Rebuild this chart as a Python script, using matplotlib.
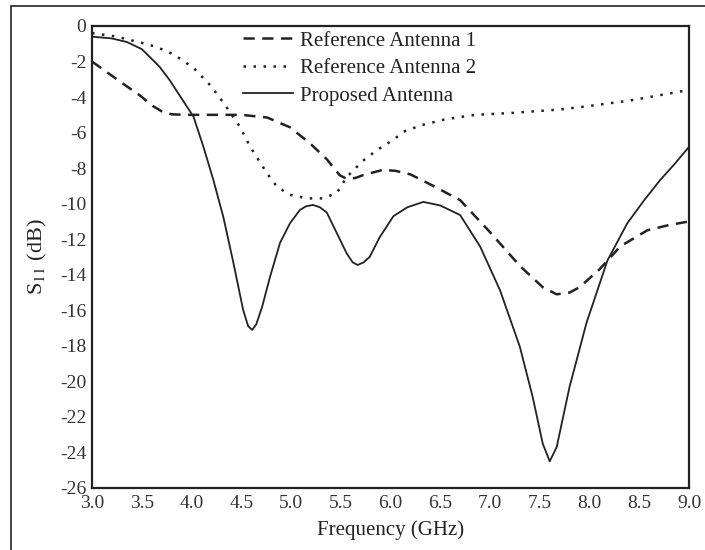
import matplotlib
matplotlib.use("Agg")
import matplotlib.pyplot as plt
from matplotlib.patches import Rectangle

plt.rcParams['font.family'] = ['Liberation Serif', 'DejaVu Serif']
plt.rcParams['mathtext.fontset'] = 'stix'

# Reference Antenna 1 (dashed)
freq_ref1 = [3.0, 3.15, 3.3, 3.48, 3.61, 3.7, 3.8, 3.95, 4.2, 4.5, 4.76, 4.99, 5.19,
             5.36, 5.49, 5.56, 5.65, 5.72, 5.92, 6.05, 6.2, 6.43, 6.7, 7.0, 7.3,
             7.53, 7.67, 7.8, 7.9, 8.1, 8.31, 8.58, 8.8, 9.0]
s11_ref1 = [-2.0, -2.6, -3.2, -3.9, -4.5, -4.8, -4.97, -5.0, -5.0, -5.0, -5.15, -5.7, -6.6,
            -7.5, -8.4, -8.6, -8.55, -8.4, -8.1, -8.15, -8.35, -9.0, -9.8, -11.6, -13.5,
            -14.7, -15.1, -15.0, -14.7, -13.7, -12.4, -11.5, -11.2, -11.0]

# Reference Antenna 2 (dotted)
freq_ref2 = [3.0, 3.25, 3.5, 3.65, 3.83, 4.02, 4.2, 4.35, 4.49, 4.59, 4.76,
             4.86, 4.99, 5.16, 5.32, 5.46, 5.56, 5.72, 5.86, 6.03, 6.13, 6.3, 6.55,
             6.85, 7.2, 7.7, 8.0, 8.4, 8.7, 9.0]
s11_ref2 = [-0.4, -0.6, -0.95, -1.18, -1.63, -2.36, -3.4, -4.55, -5.7, -6.8, -8.3,
            -9.05, -9.5, -9.7, -9.7, -9.4, -8.5, -7.6, -7.0, -6.4, -5.95, -5.6, -5.25,
            -5.0, -4.9, -4.7, -4.5, -4.2, -3.9, -3.6]

# Proposed Antenna (solid)
freq_prop = [3.0, 3.2, 3.35, 3.5, 3.58, 3.68, 3.78, 3.91, 4.02, 4.12, 4.22, 4.32, 4.42,
             4.52, 4.57, 4.61, 4.65, 4.71, 4.79, 4.89, 4.99, 5.09, 5.15, 5.22, 5.29,
             5.36, 5.46, 5.56, 5.62, 5.67, 5.73, 5.79, 5.89, 6.03, 6.17, 6.33, 6.5,
             6.7, 6.9, 7.1, 7.3, 7.43, 7.53, 7.6, 7.67, 7.8, 7.97, 8.18, 8.38,
             8.55, 8.71, 8.85, 9.0]
s11_prop = [-0.6, -0.7, -0.9, -1.3, -1.74, -2.3, -3.04, -4.16, -5.1, -6.8, -8.67, -10.75, -13.3,
            -16.0, -16.9, -17.1, -16.8, -15.8, -14.1, -12.2, -11.1, -10.35, -10.15, -10.07, -10.2,
            -10.5, -11.65, -12.8, -13.3, -13.45, -13.3, -13.0, -11.9, -10.7, -10.2, -9.9, -10.1,
            -10.64, -12.4, -14.86, -18.05, -20.9, -23.5, -24.5, -23.7, -20.3, -16.7, -13.2, -11.1,
            -9.8, -8.67, -7.8, -6.8]

labels = ['Reference Antenna 1', 'Reference Antenna 2', 'Proposed Antenna']
xticks = [3.0, 3.5, 4.0, 4.5, 5.0, 5.5, 6.0, 6.5, 7.0, 7.5, 8.0, 8.5, 9.0]
yticks = list(range(0, -27, -2))

W, H = 705, 550
fig = plt.figure(figsize=(W / 100, H / 100), dpi=100)
ax = fig.add_axes([92 / W, 1 - 488 / H, (689 - 92) / W, (488 - 26) / H])

ax.plot(freq_ref1, s11_ref1, color='#222222', lw=1.8, ls=(0, (4.5, 3)), label=labels[0])
ax.plot(freq_ref2, s11_ref2, color='#222222', lw=1.8, ls=(0, (1, 3)), label=labels[1])
ax.plot(freq_prop, s11_prop, color='#222222', lw=1.3, ls='-', label=labels[2])

ax.set_xlim(3.0, 9.0)
ax.set_ylim(-26, 0)
ax.set_xticks(xticks)
ax.set_xticklabels(['%.1f' % t for t in xticks])
ax.set_yticks(yticks)
ax.set_yticklabels([str(t) for t in yticks])
ax.tick_params(length=0, labelsize=14, colors='#333333')
ax.tick_params(axis='x', pad=5)
ax.tick_params(axis='y', pad=4)
for s in ax.spines.values():
    s.set_linewidth(1.6)
    s.set_color('#222222')

ax.set_xlabel('Frequency (GHz)', fontsize=15, color='#222222', labelpad=6)
ax.set_ylabel('S$_{11}$ (dB)', fontsize=16, color='#222222', labelpad=8)

leg = ax.legend(loc='upper left', bbox_to_anchor=(243 / W, 1 - 31 / H),
                bbox_transform=fig.transFigure, frameon=False, fontsize=15,
                handlelength=2.4, handletextpad=0.35, labelspacing=0.38,
                borderpad=0, borderaxespad=0)
for t in leg.get_texts():
    t.set_color('#222222')

# outer frame of the picture (only top and left edges visible)
fig.patches.append(Rectangle((11 / W, -0.05), 1.1, 1 - 6 / H + 0.05,
                             transform=fig.transFigure, fill=False,
                             edgecolor='#222222', lw=1.2))

fig.savefig('out.png', dpi=100)
